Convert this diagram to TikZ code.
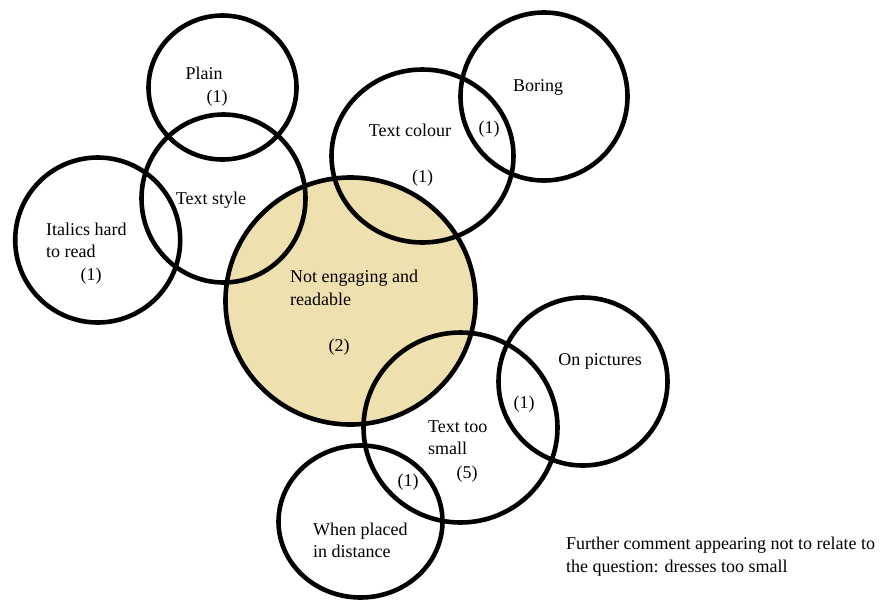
\documentclass[tikz,border=0pt]{standalone}
\usepackage{fontspec}
\setmainfont{Liberation Serif}
\usetikzlibrary{shapes.geometric}
\definecolor{tanfill}{RGB}{238,224,175}
\tikzset{
  ring/.style={ellipse, draw=black, line width=4.6pt, inner sep=0pt},
  lbl/.style={inner sep=0pt, anchor=base, font=\fontsize{18}{23}\selectfont},
  lbll/.style={lbl, anchor=base west},
}
\begin{document}
\begin{tikzpicture}[x=1pt, y=-1pt]
\useasboundingbox (0,0) rectangle (883,603);
% shaded central circle goes underneath all outlines
\fill[tanfill] (350.5,301) ellipse [x radius=125, y radius=123.5];
% outlines
\node[ring, minimum width=148pt, minimum height=144pt] (plain) at (222.5,87.5) {};
\node[ring, minimum width=164pt, minimum height=168pt] (style) at (223.5,198.5) {};
\node[ring, minimum width=165pt, minimum height=165pt] (italics) at (97.7,240) {};
\node[ring, minimum width=250pt, minimum height=247pt] (engage) at (350.5,301) {};
\node[ring, minimum width=182pt, minimum height=173pt] (colour) at (422.5,156) {};
\node[ring, minimum width=167pt, minimum height=168pt] (boring) at (544,96.5) {};
\node[ring, minimum width=194pt, minimum height=190pt] (small) at (460.5,427.5) {};
\node[ring, minimum width=169pt, minimum height=168pt] (pictures) at (583,381.5) {};
\node[ring, minimum width=164pt, minimum height=152pt] (distance) at (360.5,521.5) {};
% labels
\node[lbl] (tplain) at (204,79) {Plain};
\node[lbl] (nplain) at (217,102) {(1)};
\node[lbl] (tstyle) at (211,204) {Text style};
\node[lbll] (titalics1) at (46,235) {Italics hard};
\node[lbll] (titalics2) at (46,257) {to read};
\node[lbl] (nitalics) at (91,280) {(1)};
\node[lbl] (tcolour) at (410,136) {Text colour};
\node[lbl] (ncolour) at (422.5,182) {(1)};
\node[lbl] (tboring) at (538,91) {Boring};
\node[lbl] (nboring) at (489,133) {(1)};
\node[lbll] (tengage1) at (290,282) {Not engaging and};
\node[lbll] (tengage2) at (290,305) {readable};
\node[lbl] (nengage) at (339,351) {(2)};
\node[lbl] (tpictures) at (600,365) {On pictures};
\node[lbl] (npictures) at (524,408) {(1)};
\node[lbll] (tsmall1) at (428,432) {Text too};
\node[lbll] (tsmall2) at (428,454) {small};
\node[lbl] (nsmall) at (467,478) {(5)};
\node[lbl] (ndistance) at (408,486) {(1)};
\node[lbll] (tdistance1) at (313,535) {When placed};
\node[lbll] (tdistance2) at (313,557) {in distance};
\node[lbll] (note1) at (566,549) {Further comment appearing not to relate to};
\node[lbll] (note2) at (566,572) {the question: dresses too small};
\end{tikzpicture}
\end{document}
